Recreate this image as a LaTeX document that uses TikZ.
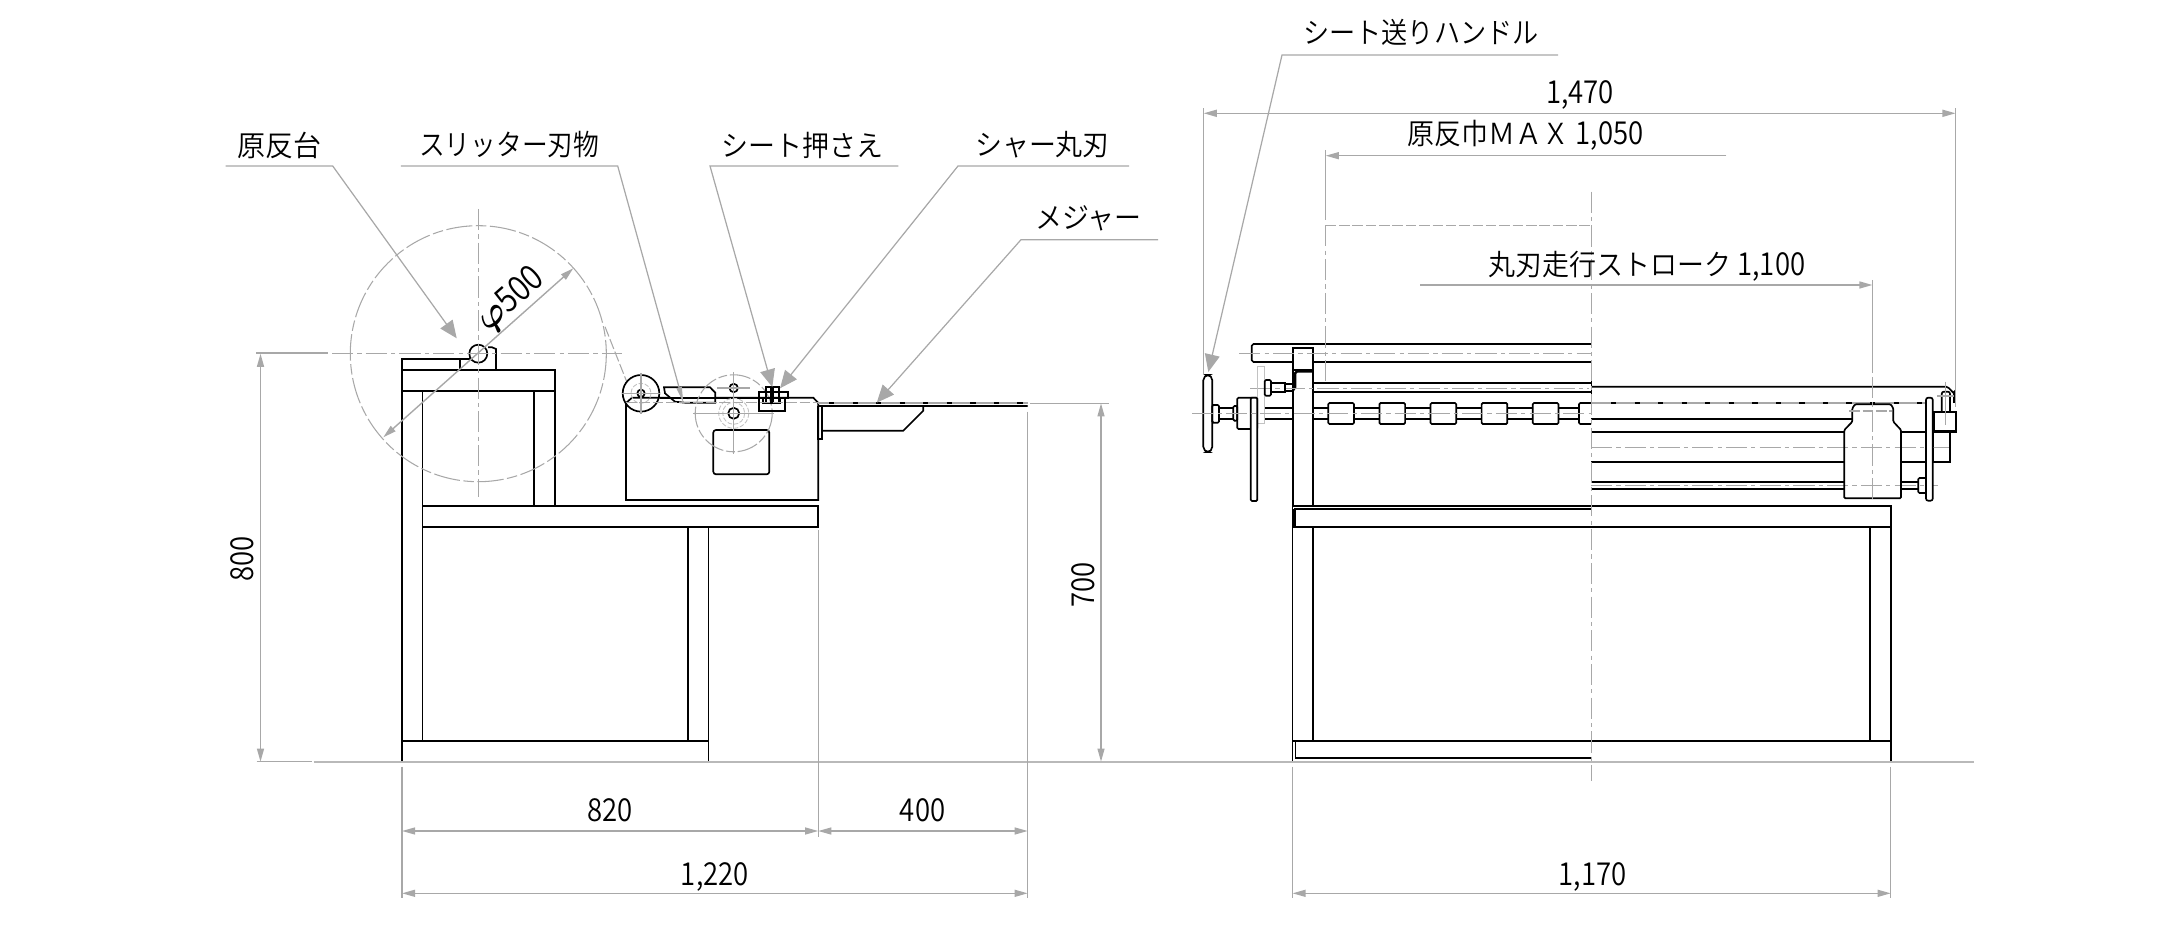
\documentclass[tikz,border=0pt]{standalone}
\usepackage{fontspec}
\usepackage{amsmath}
\usetikzlibrary{arrows.meta,calc}
\newfontfamily\jpfont[UprightFont={* DemiLight},FakeStretch=0.93]{Noto Sans CJK JP}
\newfontfamily\numfont[UprightFont={* DemiLight},FakeStretch=0.87]{Noto Sans CJK JP}
\newcommand{\dimnum}{\numfont\fontsize{18}{20}\selectfont}
\definecolor{dimgray}{RGB}{168,168,168}

\begin{document}
\begin{tikzpicture}[x=0.02cm,y=-0.02cm,line join=miter]
\tikzstyle{every node}=[inner sep=0pt,font=\jpfont\fontsize{16.5}{18}\selectfont,text=black]
\tikzstyle{part}=[draw=black,line width=0.95pt]
\tikzstyle{hair}=[draw=dimgray,line width=0.6pt]
\tikzstyle{extline}=[draw=dimgray,line width=0.7pt]
\tikzstyle{ground}=[draw=dimgray!80,line width=1.2pt]
\tikzstyle{centerline}=[draw=dimgray,line width=0.6pt,dash pattern=on 12pt off 2.4pt on 2.4pt off 2.4pt]
\tikzstyle{hidden}=[draw=dimgray,line width=0.6pt,dash pattern=on 6pt off 1.6pt]
\tikzstyle{fineline}=[draw=dimgray!70,line width=0.5pt,dash pattern=on 2.6pt off 1pt]
\tikzstyle{dimline}=[draw=dimgray,line width=0.8pt,{Triangle[length=7.5pt,width=4pt]}-{Triangle[length=7.5pt,width=4pt]}]
\tikzstyle{dimlineend}=[draw=dimgray,line width=0.8pt,-{Triangle[length=7.5pt,width=4pt]}]
\tikzstyle{leader}=[draw=dimgray,line width=0.7pt,-{Triangle[length=10pt,width=8.5pt]}]

\useasboundingbox (0,0) rectangle (2179,952);

%left view, frame
\draw[part] (402,370) rectangle (555,391);
\draw[part] (402,370) -- (402,740.7);
\draw[part] (422.6,391) -- (422.6,740.7);
\draw[part] (534.3,391) -- (534.3,505.7);
\draw[part] (555,391) -- (555,505.7);
\draw[part] (422.6,505.7) rectangle (818.3,526.7);
\draw[part] (687.8,526.7) -- (687.8,740.7);
\draw[part] (708.4,526.7) -- (708.4,740.7);
\draw[part] (402,740.7) rectangle (708.4,761.7);

%left view, roll stand
\draw[part] (402,370) -- (402,359.3) -- (470,359.3);
\draw[part] (460,359.3) -- (460,370);
\draw[part] (488,347.3) -- (492,347.3) -- (496,349) -- (496,370);
\draw[part,fill=white] (478.3,353.7) circle (9);

%left view, roll
\draw[centerline] (332,353.7) -- (622,353.7);
\draw[centerline] (478.3,209) -- (478.3,497);
\draw[draw=dimgray,line width=0.6pt,dash pattern=on 15pt off 2pt on 6pt off 2pt] (478.3,353.7) circle (128);
\draw[hidden] (605,326.7) -- (626.7,381.7);

%left view, slitter box
\draw[part] (626,403) -- (626,500) -- (818.3,500) -- (818.3,403) -- (813.3,397.7) -- (632,397.7) -- cycle;
\draw[part,rounded corners=1.5pt] (713.3,430) rectangle (769.3,474.3);

%roller
\draw[part] (641,393.3) circle (18.3);
\draw[fineline] (641,393.3) circle (10);
\draw[part] (641,393.3) circle (3.7);
\draw[hair] (622,393.3) -- (660,393.3);
\draw[hair] (641,373) -- (641,414);

%blade
\draw[part,fill=white] (664,387.3) -- (710,387.3) -- (715.3,392.7) -- (715.3,402.7) -- (685,402.7) -- (675,401.7) -- (665,393.3) -- cycle;
\draw[part] (660,397.7) -- (758,397.7);

%round blade
\draw[draw=dimgray,line width=0.6pt,dash pattern=on 12pt off 1.6pt on 5pt off 1.6pt] (733.7,413.3) circle (38.5);
\draw[fineline] (733.7,413.3) circle (15);
\draw[fineline] (733.7,413.3) circle (11);
\draw[part] (733.7,388) circle (4.2);
\draw[part] (733.7,413.3) circle (5.5);
\draw[hair] (693,413.3) -- (774,413.3);
\draw[hair] (717,388) -- (750,388);
\draw[hair] (733.7,372) -- (733.7,454);

%sheet clamp
\draw[part] (759.3,398) rectangle (785,411);
\draw[part] (758.7,392.3) rectangle (787.7,398.3);
\draw[part] (765.7,386.7) rectangle (770.7,403.3);
\draw[part] (773.3,386.7) rectangle (779.3,403.3);
\draw[part] (763,398.3) rectangle (780,403.3);

%measure
\draw[hidden] (626,402.7) -- (818,402.7);
\draw[draw=dimgray,line width=1.2pt] (818,403.4) -- (1028,403.4);
\draw[draw=black,line width=0.8pt,dash pattern=on 3pt off 10.4pt] (829,402.8) -- (1024,402.8);
\draw[part,line width=1.2pt,line cap=round] (819,405.6) -- (1027,405.6);
\draw[part] (818.3,406) -- (818.3,439) -- (821.7,439) -- (821.7,406);
\draw[part] (821.7,430.7) -- (903.3,430.7) -- (923.3,410.7) -- (923.3,406);

%right view, table
\draw[part] (1292.5,505.7) rectangle (1890.7,526.7);
\draw[part] (1295,526.7) -- (1295,508.7) -- (1591,508.7);
\draw[part,line width=1.4pt] (1293.6,509) -- (1293.6,526.7);
\draw[part] (1292.5,526.7) -- (1292.5,740.7);
\draw[part] (1312.8,526.7) -- (1312.8,740.7);
\draw[part] (1869.8,526.7) -- (1869.8,740.7);
\draw[part] (1890.7,526.7) -- (1890.7,740.7);
\draw[part] (1292.5,740.7) rectangle (1890.7,761.7);
\draw[part] (1295.4,740.7) -- (1295.4,758.3) -- (1591,758.3);

%right view, post and rails
\draw[part,rounded corners=1pt] (1591,344) -- (1251.7,344) -- (1251.7,362) -- (1591,362);
\draw[part,fill=white] (1292.7,347.7) rectangle (1313.3,370);
\draw[part] (1292.7,370) -- (1292.7,505.7);
\draw[part] (1313.3,370) -- (1313.3,505.7);
\draw[part,line width=1.4pt,rounded corners=1pt] (1313.3,371.5) -- (1295,371.5) -- (1295,389) -- (1292.7,390);
\draw[part] (1313.3,383.3) -- (1591,383.3);
\draw[part] (1313.3,391.7) -- (1591,391.7);
\draw[centerline] (1239.3,353.3) -- (1591,353.3);
\draw[centerline] (1250,388.3) -- (1589,388.3);

%small knob
\draw[draw=dimgray!70,line width=0.8pt] (1257.3,366.7) rectangle (1264.7,423.3);
\draw[part,rounded corners=0.7pt] (1264.7,380) rectangle (1271,395.7);
\draw[part] (1271,383.3) -- (1285,383.3) -- (1285,392.3) -- (1271,392.3);
\draw[part] (1285,384) -- (1293,384);
\draw[part] (1285,391) -- (1293,391);

%handle
\draw[part,rounded corners=3pt] (1203.3,375) rectangle (1212.3,452);
\draw[part,rounded corners=0.7pt] (1212.3,405) rectangle (1219,422.7);
\draw[part] (1219,407.7) -- (1233.3,407.7);
\draw[part] (1219,419.3) -- (1233.3,419.3);
\draw[part,rounded corners=0.7pt] (1233.3,406) rectangle (1237.3,420.7);
\draw[part,rounded corners=0.7pt] (1237.3,397.7) rectangle (1257.3,429);
\draw[part,rounded corners=0.7pt,fill=white] (1250.7,397.7) rectangle (1257.3,501);

%shaft and rollers
\draw[part] (1265,408.3) -- (1292.7,408.3);
\draw[part] (1265,419) -- (1292.7,419);
\draw[part] (1313.3,408.3) -- (1579,408.3);
\draw[part] (1313.3,419) -- (1579,419);
\draw[part,fill=white,rounded corners=0.7pt] (1328.3,403) rectangle ++(25.7,21);
\draw[part,fill=white,rounded corners=0.7pt] (1379.4,403) rectangle ++(25.7,21);
\draw[part,fill=white,rounded corners=0.7pt] (1430.5,403) rectangle ++(25.7,21);
\draw[part,fill=white,rounded corners=0.7pt] (1481.6,403) rectangle ++(25.7,21);
\draw[part,fill=white,rounded corners=0.7pt] (1532.7,403) rectangle ++(25.7,21);
\draw[part,rounded corners=0.7pt] (1591,403) -- (1579,403) -- (1579,424) -- (1591,424);
\draw[centerline] (1192.3,413.3) -- (1591,413.3);

%right half, rails
\draw[part,line width=1.1pt] (1591.5,372.3) -- (1591.5,402);
\draw[part] (1591,386.7) -- (1946,386.7) to[out=0,in=-90] (1954,392) -- (1954,403);
\draw[draw=dimgray,line width=0.9pt] (1591,403) -- (1926,403);
\draw[draw=black,line width=0.8pt,dash pattern=on 3pt off 10.4pt] (1611,403) -- (1926,403);
\draw[part] (1591,419.3) -- (1852,419.3);
\draw[part,line width=1.1pt] (1591,431.7) -- (1844.3,431.7);
\draw[part] (1901,431.7) -- (1926,431.7);
\draw[part] (1591,462.3) -- (1844.3,462.3);
\draw[part] (1901,462.3) -- (1950,462.3) -- (1950,432);
\draw[part] (1932.7,462.3) -- (1932.7,432);
\draw[part] (1591,481.7) -- (1844.3,481.7);
\draw[part] (1591,489.3) -- (1844.3,489.3);
\draw[part] (1901,482) -- (1918.3,482);
\draw[part] (1901,489.3) -- (1918.3,489.3);
\draw[centerline] (1591,447.3) -- (1951.7,447.3);
\draw[centerline] (1591,485.3) -- (1937.7,485.3);

%carriage
\draw[part,rounded corners=0.6pt] (1844.3,498.3) -- (1844.3,430) -- (1852.3,421.7) -- (1852.3,408.3) -- (1855,404.3) -- (1890.7,404.3) -- (1893.3,408.3) -- (1893.3,421.7) -- (1901,430) -- (1901,498.3) -- cycle;
\draw[hidden] (1849.3,411) -- (1891.7,411);

%right end
\draw[part,rounded corners=0.7pt] (1918.3,478) rectangle (1926.7,493);
\draw[part,rounded corners=1.2pt,fill=white] (1926,397.7) rectangle (1932.7,500.7);
\draw[part,line width=1.4pt,fill=white] (1934,412) rectangle (1956,431.5);
\draw[part,rounded corners=1.2pt] (1941.7,411.7) -- (1941.7,391.7) -- (1950,391.7) -- (1950,411.7);
\draw[hair] (1945.7,381.7) -- (1945.7,425);
\draw[hair] (1937,396) -- (1954,396);

%center line of right view
\draw[centerline] (1591.6,191.7) -- (1591.6,781);

%floor
\draw[ground] (313.6,761.7) -- (1973.5,761.7);

%texts
\node (labelstand) at (279.7,145) [xscale=1.04] {原反台};
\node (labelslit) at (509.3,145) [xscale=0.955] {スリッター刃物};
\node (labelclamp) at (802.7,145) {シート押さえ};
\node (labelshear) at (1042.5,145) {シャー丸刃};
\node (labelmeasure) at (1088.5,218) {メジャー};
\node (labelhandle) at (1421,32.3) [xscale=0.97] {シート送りハンドル};
\node (dimroll) at (511,300) [rotate=41.6,font=\numfont\fontsize{20}{22}\selectfont] {$\boldsymbol{\varphi}$500};
\node (dimA) at (242,559) [rotate=90,font=\dimnum] {800};
\node (dimB) at (1082.8,585) [rotate=90,font=\dimnum] {700};
\node (dimC) at (610.4,821.7) [anchor=base,font=\dimnum] {820};
\node (dimD) at (922.6,821.7) [anchor=base,font=\dimnum] {400};
\node (dimE) at (714.8,885) [anchor=base,font=\dimnum] {1,220};
\node (dimF) at (1592.5,885) [anchor=base,font=\dimnum] {1,170};
\node (dimG) at (1580,104) [anchor=base,font=\dimnum] {1,470};
\node (dimH) at (1525.5,144.3) [anchor=base] {原反巾ＭＡＸ {\dimnum 1,050}};
\node (dimI) at (1647,275.7) [anchor=base] {丸刃走行ストローク {\dimnum 1,100}};

%leaders
\coordinate (standA) at (225.5,166);
\coordinate (standB) at (332.7,166);
\coordinate (standC) at (456.7,338.3);
\draw[leader] (standA) -- (standB) -- (standC);
\coordinate (slitA) at (400.9,166);
\coordinate (slitB) at (617.7,166);
\coordinate (slitC) at (683.3,402.7);
\draw[draw=dimgray,line width=0.7pt,-{Triangle[length=9pt,width=3pt]}] (slitA) -- (slitB) -- (slitC);
\coordinate (clampA) at (898.3,166);
\coordinate (clampB) at (710,166);
\coordinate (clampC) at (772.3,387);
\draw[leader] (clampA) -- (clampB) -- (clampC);
\coordinate (shearA) at (1129,166);
\coordinate (shearB) at (958,166);
\coordinate (shearC) at (780,388.3);
\draw[leader] (shearA) -- (shearB) -- (shearC);
\coordinate (measureA) at (1158,239.7);
\coordinate (measureB) at (1021,239.7);
\coordinate (measureC) at (876.7,402.7);
\draw[leader] (measureA) -- (measureB) -- (measureC);
\coordinate (handleA) at (1558,55);
\coordinate (handleB) at (1282,55);
\coordinate (handleC) at (1208.3,372);
\draw[leader] (handleA) -- (handleB) -- (handleC);

%dimensions
\coordinate (rollA) at (383.3,437.3);
\coordinate (rollB) at (573.3,268.3);
\draw[dimline] (rollA) -- (rollB);
\draw[extline] (256,353) -- (328,353);
\draw[extline] (256.7,761.7) -- (312,761.7);
\coordinate (heightA) at (260.5,353.7);
\coordinate (heightB) at (260.5,761.7);
\draw[dimline] (heightA) -- (heightB);
\draw[extline] (1030,403.3) -- (1109,403.3);
\coordinate (tableA) at (1101,403.3);
\coordinate (tableB) at (1101,761.7);
\draw[dimline] (tableA) -- (tableB);
\draw[extline] (402,766.7) -- (402,898.3);
\draw[extline] (818.2,530) -- (818.2,836.7);
\draw[extline] (1027.7,411.7) -- (1027.7,898.3);
\coordinate (frontA) at (402,831);
\coordinate (frontB) at (818.2,831);
\coordinate (frontC) at (1027.7,831);
\draw[dimline] (frontA) -- (frontB);
\draw[dimline] (frontB) -- (frontC);
\coordinate (totalA) at (402,893.3);
\coordinate (totalB) at (1027.7,893.3);
\draw[dimline] (totalA) -- (totalB);
\draw[extline] (1292.5,766.7) -- (1292.5,898.3);
\draw[extline] (1890.7,766.7) -- (1890.7,898.3);
\coordinate (widthA) at (1292.5,893.3);
\coordinate (widthB) at (1890.7,893.3);
\draw[dimline] (widthA) -- (widthB);
\draw[extline] (1203.6,108.3) -- (1203.6,375);
\draw[extline] (1955.6,108.3) -- (1955.6,406.7);
\coordinate (overallA) at (1203.6,113.3);
\coordinate (overallB) at (1955.6,113.3);
\draw[dimline] (overallA) -- (overallB);
\draw[extline] (1325.7,150) -- (1325.7,220);
\coordinate (sheetA) at (1726.3,155.7);
\coordinate (sheetB) at (1325.7,155.7);
\draw[dimlineend] (sheetA) -- (sheetB);
\draw[hidden] (1325.7,225.3) -- (1591,225.3);
\draw[centerline] (1325.7,225.3) -- (1325.7,383);
\draw[extline] (1872.7,280) -- (1872.7,373.3);
\draw[centerline] (1872.7,377) -- (1872.7,500);
\coordinate (strokeA) at (1420,285);
\coordinate (strokeB) at (1872.5,285);
\draw[dimlineend] (strokeA) -- (strokeB);

\end{tikzpicture}
\end{document}
